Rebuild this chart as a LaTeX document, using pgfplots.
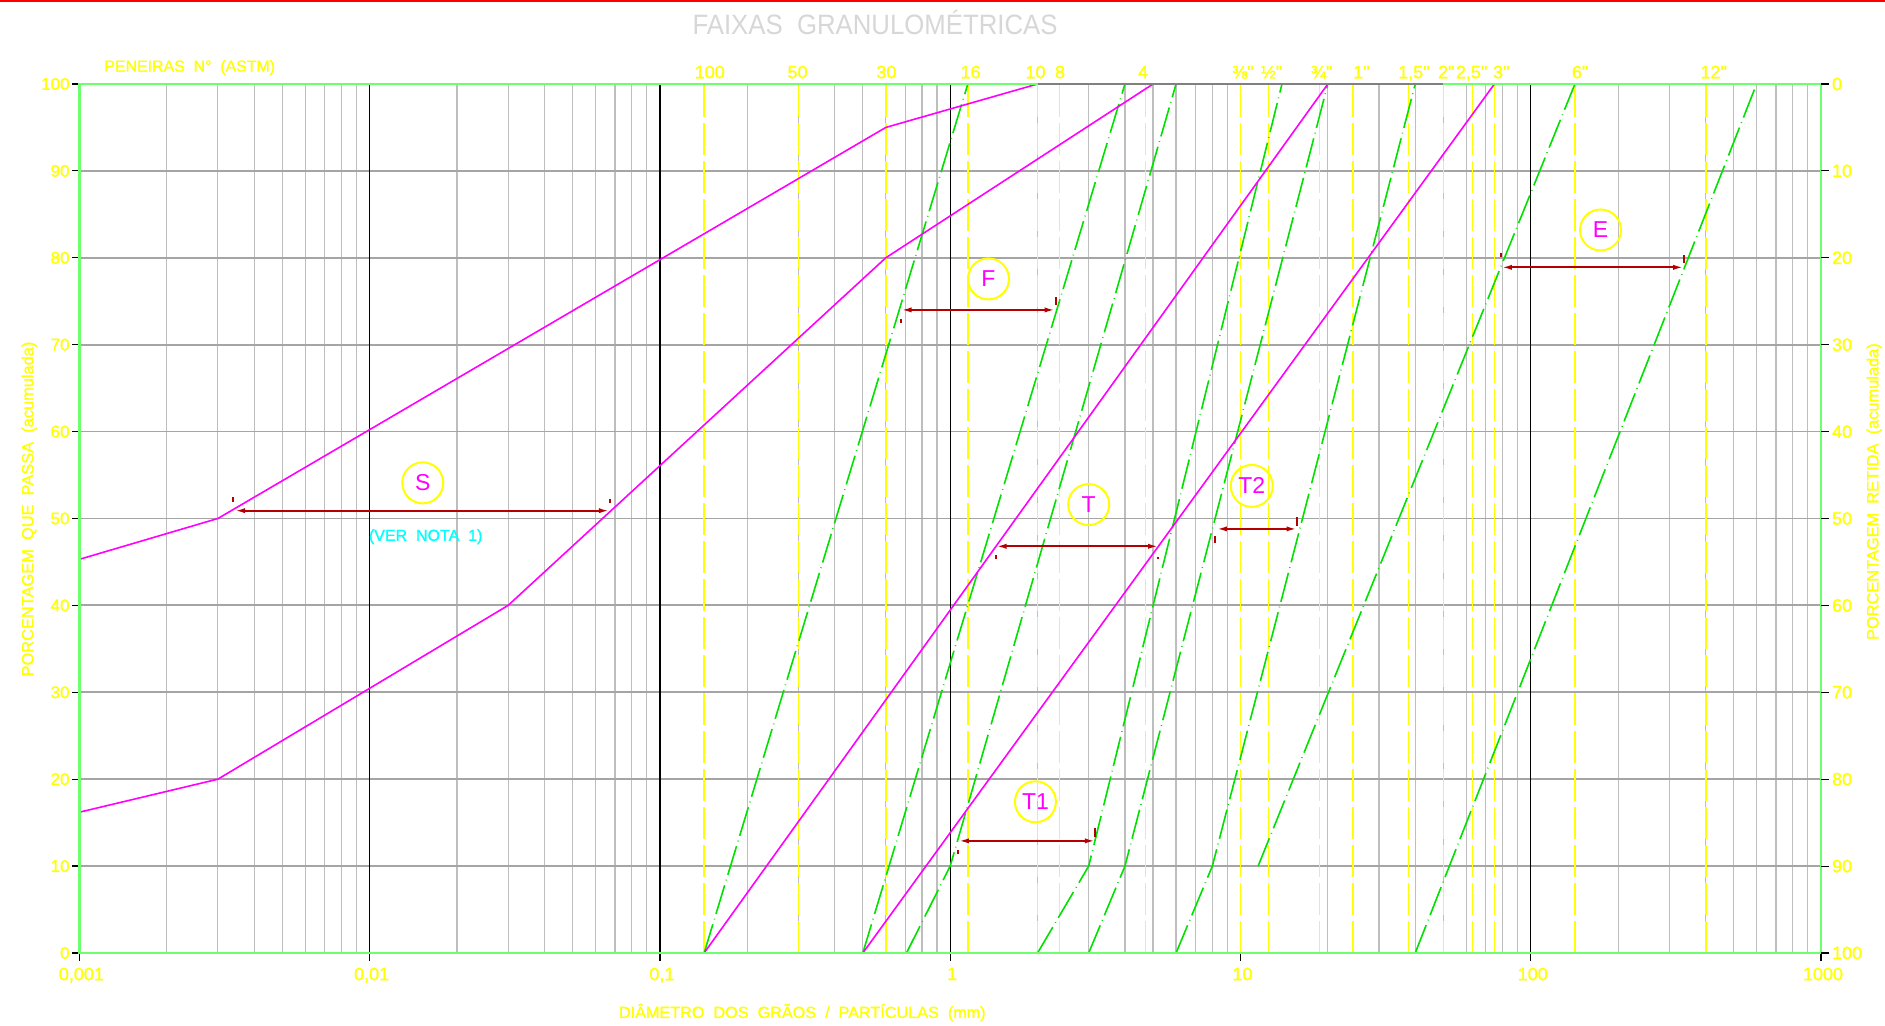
\documentclass[border=0pt]{standalone}
\usepackage{fontspec}
\setmainfont{Liberation Sans}[FakeBold=1.2]
\newfontfamily\titlefont[FakeStretch=0.92]{Liberation Sans}
\newfontfamily\thinfont{Liberation Sans}
\newfontfamily\medfont[FakeBold=1.2]{Liberation Sans}
\usepackage{pgfplots}
\pgfplotsset{compat=1.18}
\usetikzlibrary{arrows.meta}
\definecolor{ylw}{RGB}{255,255,0}
\definecolor{grn}{RGB}{0,225,0}
\definecolor{axgrn}{RGB}{110,255,110}
\definecolor{mag}{RGB}{255,0,255}
\definecolor{arr}{RGB}{180,0,0}
\definecolor{grdv}{RGB}{190,190,190}
\definecolor{grdh}{RGB}{165,165,165}
\definecolor{ttl}{RGB}{215,215,215}
\definecolor{cyn}{RGB}{0,255,255}
\definecolor{topgray}{RGB}{128,128,128}
\tikzset{
  ddot/.style={grn, line width=0.8pt, dash pattern=on 15pt off 2.5pt on 0.4pt off 2.5pt},
  sieve/.style={ylw, line width=0.75pt, dash pattern=on 16pt off 3pt},
  band/.style={mag, line width=0.8pt},
  ar/.style={arr, line width=0.9pt, {Latex[length=5pt,width=2.6pt]}-{Latex[length=5pt,width=2.6pt]}},
  tk/.style={arr, line width=1pt},
  circ/.style={ylw, line width=1pt},
  lett/.style={text=mag, font=\thinfont\fontsize{11.5}{12}\selectfont, inner sep=0pt},
  slab/.style={anchor=base, inner sep=0pt, text=ylw, font=\medfont\fontsize{9}{10}\selectfont, yshift=2.85pt},
}
\begin{document}
\begin{tikzpicture}
\path[use as bounding box] (0,0) rectangle (942.5pt,513pt);
\fill[white] (0,0) rectangle (942.5pt,513pt);
\draw[red, line width=1pt] (0,512.5pt) -- (942.5pt,512.5pt);

\begin{axis}[
  at={(39.7pt,36.5pt)}, anchor=south west,
  width=870.8pt, height=434.5pt, scale only axis,
  xmode=log, xmin=0.001, xmax=1000, ymin=0, ymax=100,
  clip=false,
  axis line style={draw=none},
  xtick={0.001,0.01,0.1,1,10,100,1000},
  xticklabels={{0,001},{0,01},{0,1},1,10,100,1000},
  minor xtick={0.002,0.003,0.004,0.005,0.006,0.007,0.008,0.009,
    0.02,0.03,0.04,0.05,0.06,0.07,0.08,0.09,
    0.2,0.3,0.4,0.5,0.6,0.7,0.8,0.9,
    2,3,4,5,6,7,8,9,
    20,30,40,50,60,70,80,90,
    200,300,400,500,600,700,800,900},
  ytick={0,10,...,100},
  ytick pos=left, xtick pos=bottom,
  tick align=outside,
  major tick length=3.8pt, minor tick length=0pt,
  tick style={black, line width=0.6pt},
  xminorgrids, ymajorgrids,
  minor x grid style={grdv, line width=0.6pt},
  major y grid style={grdh, line width=0.9pt},
  ticklabel style={text=ylw},
  xticklabel style={font=\medfont\fontsize{9}{10}\selectfont, xshift=1pt},
  yticklabel style={font=\medfont\fontsize{8.5}{10}\selectfont, xshift=2.4pt},
  /pgf/number format/assume math mode=true,
]
% decade lines
\addplot[black, line width=0.6pt] coordinates {(0.01,0)(0.01,100)};
\addplot[black, line width=0.6pt] coordinates {(0.1,0)(0.1,100)};
\addplot[black, line width=0.6pt] coordinates {(1,0)(1,100)};
\addplot[black, line width=0.6pt] coordinates {(100,0)(100,100)};
% sieve lines
\addplot[sieve] coordinates {(0.142,0)(0.142,100)};
\addplot[sieve] coordinates {(0.30,0)(0.30,100)};
\addplot[sieve] coordinates {(0.60,0)(0.60,100)};
\addplot[sieve] coordinates {(1.15,0)(1.15,100)};
\addplot[sieve] coordinates {(2.0,0)(2.0,100)};
\addplot[sieve] coordinates {(2.38,0)(2.38,100)};
\addplot[sieve] coordinates {(4.7,0)(4.7,100)};
\addplot[sieve] coordinates {(10,0)(10,100)};
\addplot[sieve] coordinates {(12.5,0)(12.5,100)};
\addplot[sieve] coordinates {(18.7,0)(18.7,100)};
\addplot[sieve] coordinates {(24.4,0)(24.4,100)};
\addplot[sieve] coordinates {(37.9,0)(37.9,100)};
\addplot[sieve] coordinates {(50,0)(50,100)};
\addplot[sieve] coordinates {(63,0)(63,100)};
\addplot[sieve] coordinates {(75,0)(75,100)};
\addplot[sieve] coordinates {(142,0)(142,100)};
\addplot[sieve] coordinates {(402,0)(402,100)};
% green dash-dot band limits
\addplot[ddot] coordinates {(0.142,0)(1.15,100)};
\addplot[ddot] coordinates {(0.5,0)(4,100)};
\addplot[ddot] coordinates {(0.707,0)(1,10)(6,100)};
\addplot[ddot] coordinates {(2,0)(3,10)(13.9,100)};
\addplot[ddot] coordinates {(3,0)(4,10)(20,100)};
\addplot[ddot] coordinates {(6,0)(8,10)(40,100)};
\addplot[ddot] coordinates {(11.5,10)(142,100)};
\addplot[ddot] coordinates {(40,0)(600,100)};
% magenta bands
\addplot[band] coordinates {(0.001,45.3)(0.003,50)(0.6,95)(2,100)};
\addplot[band] coordinates {(0.001,16.2)(0.003,20)(0.03,40)(0.6,80)(5,100)};
\addplot[band] coordinates {(0.142,0)(20,100)};
\addplot[band] coordinates {(0.5,0)(75,100)};
% frame
\draw[axgrn, line width=1.2pt] (rel axis cs:0,0) -- (rel axis cs:1,0) -- (rel axis cs:1,1) -- (rel axis cs:0,1) -- cycle;
\addplot[topgray, line width=1.2pt] coordinates {(2,100)(50,100)};
% arrows
\draw[ar] (axis cs:0.00344,50.9) -- (axis cs:0.0667,50.9);
\draw[tk] (axis cs:0.00337,51.9) -- (axis cs:0.00337,52.5);
\draw[tk] (axis cs:0.0671,51.75) -- (axis cs:0.0671,52.3);
\draw[ar] (axis cs:0.680,74.0) -- (axis cs:2.29,74.0);
\draw[tk] (axis cs:0.678,72.5) -- (axis cs:0.678,73.0);
\draw[tk] (axis cs:2.31,74.6) -- (axis cs:2.31,75.5);
\draw[ar] (axis cs:1.444,46.8) -- (axis cs:5.2,46.8);
\draw[tk] (axis cs:1.44,45.3) -- (axis cs:1.44,45.8);
\draw[tk] (axis cs:5.2,45.3) -- (axis cs:5.2,45.6);
\draw[ar] (axis cs:1.072,12.9) -- (axis cs:3.15,12.9);
\draw[tk] (axis cs:1.065,11.35) -- (axis cs:1.065,11.9);
\draw[tk] (axis cs:3.15,13.35) -- (axis cs:3.15,14.4);
\draw[ar] (axis cs:8.3,48.8) -- (axis cs:15.6,48.8);
\draw[tk] (axis cs:8.2,47.2) -- (axis cs:8.2,48.0);
\draw[tk] (axis cs:15.6,49.1) -- (axis cs:15.6,50.2);
\draw[ar] (axis cs:79.6,78.9) -- (axis cs:335,78.9);
\draw[tk] (axis cs:79,80.1) -- (axis cs:79,80.5);
\draw[tk] (axis cs:338,79.4) -- (axis cs:338,80.3);
% circles
\draw[circ] (axis cs:0.01524,54.1) circle[radius=10.25pt];
\node[lett] at (axis cs:0.01524,54.1) {S};
\draw[circ] (axis cs:1.355,77.57) circle[radius=10.25pt];
\node[lett] at (axis cs:1.355,77.57) {F};
\draw[circ] (axis cs:3.0,51.6) circle[radius=10.25pt];
\node[lett] at (axis cs:3.0,51.6) {T};
\draw[circ] (axis cs:1.967,17.4) circle[radius=10.25pt];
\node[lett] at (axis cs:1.967,17.4) {T1};
\draw[circ] (axis cs:10.94,53.75) circle[radius=10.5pt];
\node[lett] at (axis cs:10.94,53.75) {T2};
\draw[circ] (axis cs:174,83.2) circle[radius=10.25pt];
\node[lett] at (axis cs:174,83.2) {E};
\node[text=cyn, font=\medfont\fontsize{8}{9}\selectfont, inner sep=0pt] at (axis cs:0.01560,47.9) {(VER\ \ NOTA\ \ 1)};
% sieve labels
\node[slab] at (axis cs:0.1485,100) {100};
\node[slab] at (axis cs:0.298,100) {50};
\node[slab] at (axis cs:0.603,100) {30};
\node[slab] at (axis cs:1.176,100) {16};
\node[slab] at (axis cs:1.968,100) {10};
\node[slab] at (axis cs:2.39,100) {8};
\node[slab] at (axis cs:4.62,100) {4};
\node[slab] at (axis cs:10.2,100) {⅜"};
\node[slab] at (axis cs:12.8,100) {½"};
\node[slab] at (axis cs:19.05,100) {¾"};
\node[slab] at (axis cs:26.1,100) {1"};
\node[slab] at (axis cs:39.6,100) {1,5"};
\node[slab] at (axis cs:51.2,100) {2"};
\node[slab] at (axis cs:62.6,100) {2,5"};
\node[slab] at (axis cs:79.2,100) {3"};
\node[slab] at (axis cs:148,100) {6"};
\node[slab] at (axis cs:427,100) {12"};
\end{axis}

\begin{axis}[
  at={(39.7pt,36.5pt)}, anchor=south west,
  width=870.8pt, height=434.5pt, scale only axis,
  xmin=0, xmax=1, ymin=0, ymax=100, y dir=reverse,
  axis x line=none, axis y line*=right,
  axis line style={draw=none},
  ytick={0,10,...,100},
  tick align=outside, major tick length=3.8pt,
  tick style={black, line width=0.6pt},
  yticklabel style={text=ylw, font=\medfont\fontsize{9}{10}\selectfont, xshift=-1.8pt},
  /pgf/number format/assume math mode=true,
]
\addplot[draw=none] coordinates {(0.5,50)};
\end{axis}

\node[anchor=base, inner sep=0pt, font=\titlefont\fontsize{14}{16}\selectfont, text=ttl] at (437.5pt,495.5pt) {FAIXAS\ \ GRANULOMÉTRICAS};
\node[anchor=base west, inner sep=0pt, font=\medfont\fontsize{7.95}{10}\selectfont, text=ylw] at (52pt,477.2pt) {PENEIRAS\ \ N°\ \ (ASTM)};
\node[anchor=base west, inner sep=0pt, font=\medfont\fontsize{8.1}{10}\selectfont, text=ylw] at (309.3pt,4pt) {DIÂMETRO\ \ DOS\ \ GRÃOS\ \ /\ \ PARTÍCULAS\ \ (mm)};
\node[rotate=90, anchor=base, inner sep=0pt, font=\medfont\fontsize{8.2}{10}\selectfont, text=ylw] at (16.7pt,258.5pt) {PORCENTAGEM\ \ QUE\ \ PASSA\ \ (acumulada)};
\node[rotate=90, anchor=base, inner sep=0pt, font=\medfont\fontsize{8.2}{10}\selectfont, text=ylw] at (939.2pt,267.2pt) {PORCENTAGEM\ \ RETIDA\ \ (acumulada)};
\end{tikzpicture}
\end{document}
